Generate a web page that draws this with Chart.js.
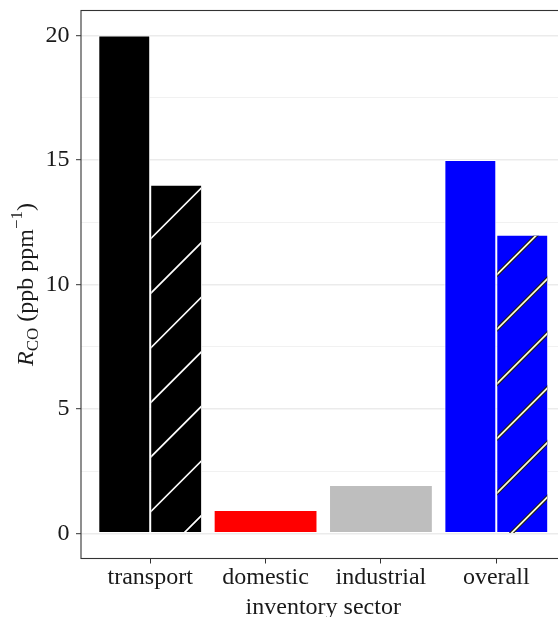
<!DOCTYPE html>
<html>
<head>
<meta charset="utf-8">
<script src="https://cdn.jsdelivr.net/npm/chart.js@4.4.0/dist/chart.umd.min.js"></script>
<style>
  html, body { margin: 0; padding: 0; background: #fff; overflow: hidden; width: 558px; height: 617px; }
  #wrap { position: absolute; left: 0; top: 0; width: 570px; height: 617px; }
</style>
</head>
<body>
<div id="wrap"><canvas id="chart" width="570" height="617"></canvas></div>
<script>
// ── DATA ──────────────────────────────────────────────────────
const sectors       = ['transport', 'domestic', 'industrial', 'overall'];
const plainValues   = [20, 0.95, 1.95, 15];   // solid bars
const hatchedValues = [14, null, null, 12];   // hatched bars (transport, overall only)
const majorTicks    = [0, 5, 10, 15, 20];
const minorTicks    = [2.5, 7.5, 12.5, 17.5];

// ── STYLE ─────────────────────────────────────────────────────
const FONT = '"Liberation Serif", "Times New Roman", serif';
const INK  = '#1a1a1a';
const plainColors = ['#000000', '#ff0000', '#bebebe', '#0000ff'];
const hatchFill   = ['#000000', null, null, '#0000ff'];
const hatchLine   = ['#ffffff', null, null, '#fbfbd8'];
const hatchEdge   = [null, null, null, '#1c1c1c'];

// diagonal stripes on the second dataset, clipped to each bar
const hatchPlugin = {
  id: 'hatch',
  afterDatasetsDraw(chart, args, opts) {
    const ctx = chart.ctx;
    const meta = chart.getDatasetMeta(1);
    meta.data.forEach((bar, i) => {
      if (hatchedValues[i] == null) return;
      const { x, y, base, width } = bar.getProps(['x', 'y', 'base', 'width'], true);
      const l = x - width / 2 + 1, r = x + width / 2 - 1;
      const t = Math.min(y, base) + 1, b = Math.max(y, base);
      ctx.save();
      ctx.beginPath();
      ctx.rect(l, t, r - l, b - t);
      ctx.clip();
      const step = opts.spacing;
      const first = opts.phase + Math.floor((l + t - opts.phase) / step) * step;
      const passes = hatchEdge[i] ? [[hatchEdge[i], 4], [hatchLine[i], 1.8]] : [[hatchLine[i], 1.7]];
      passes.forEach(([col, lw]) => {
        ctx.strokeStyle = col;
        ctx.lineWidth = lw;
        ctx.beginPath();
        for (let c = first; c <= r + b + step; c += step) {
          ctx.moveTo(c - (b + 10), b + 10);
          ctx.lineTo(c - (t - 10), t - 10);
        }
        ctx.stroke();
      });
      ctx.restore();
    });
  }
};

// panel border + y title with sub/superscript
const framePlugin = {
  id: 'frame',
  afterDraw(chart) {
    const { ctx, chartArea: a } = chart;
    ctx.save();
    ctx.strokeStyle = '#333333';
    ctx.lineWidth = 1.1;
    ctx.strokeRect(a.left, a.top, a.right - a.left, a.bottom - a.top);

    const parts = [
      { text: 'R', size: 24, italic: true, shift: 0 },
      { text: 'CO', size: 17, shift: 5 },
      { text: ' (ppb ppm', size: 24, shift: 0 },
      { text: '\u22121', size: 17, shift: -11 },
      { text: ')', size: 24, shift: 0 },
    ];
    const fontOf = p => (p.italic ? 'italic ' : '') + p.size + 'px ' + FONT;
    let total = 0;
    parts.forEach(p => { ctx.font = fontOf(p); p.w = ctx.measureText(p.text).width; total += p.w; });
    ctx.translate(33, (a.top + a.bottom) / 2);
    ctx.rotate(-Math.PI / 2);
    ctx.fillStyle = INK;
    ctx.textBaseline = 'alphabetic';
    ctx.textAlign = 'left';
    let px = -total / 2;
    parts.forEach(p => { ctx.font = fontOf(p); ctx.fillText(p.text, px, p.shift); px += p.w; });
    ctx.restore();
  }
};

new Chart(document.getElementById('chart'), {
  type: 'bar',
  data: {
    datasets: [
      {
        data: sectors.map((s, i) => ({ x: i + 1, y: plainValues[i] })),
        backgroundColor: plainColors,
        borderColor: '#ffffff', borderWidth: 1, borderSkipped: false
      },
      {
        data: sectors.map((s, i) => ({ x: i + 1, y: hatchedValues[i] })),
        backgroundColor: hatchFill,
        borderColor: '#ffffff', borderWidth: 1, borderSkipped: false
      }
    ]
  },
  options: {
    responsive: false,
    animation: false,
    devicePixelRatio: 1,
    categoryPercentage: 0.9,
    barPercentage: 1,
    skipNull: true,
    layout: { padding: { top: 10.5, right: 4.5, left: 0, bottom: 0 } },
    plugins: {
      legend: { display: false },
      tooltip: { enabled: false },
      hatch: { spacing: 54.6, phase: 7.2 }
    },
    scales: {
      x: {
        type: 'linear', min: 0.4, max: 4.6, offset: false,
        afterBuildTicks: s => { s.ticks = sectors.map((_, i) => ({ value: i + 1 })); },
        afterFit: s => { s.height = 58.5; s.paddingLeft = 0; s.paddingRight = 0; },
        border: { display: false },
        grid: { drawOnChartArea: false, offset: false, tickLength: 5, tickColor: '#333333', tickWidth: 1 },
        ticks: {
          autoSkip: false, maxRotation: 0, padding: 2, color: INK,
          font: { family: FONT, size: 24, lineHeight: 1 },
          callback: v => sectors[v - 1]
        },
        title: {
          display: true, text: 'inventory sector', color: INK, padding: 0,
          font: { family: FONT, size: 24, lineHeight: 0.8 }
        }
      },
      y: {
        min: -1, max: 21,
        afterBuildTicks: s => {
          s.ticks = majorTicks.concat(minorTicks).sort((a, b) => a - b).map(v => ({ value: v }));
        },
        afterFit: s => { s.width = 81; s.paddingTop = 0; s.paddingBottom = 0; },
        border: { display: false },
        grid: {
          color: '#ebebeb',
          lineWidth: c => majorTicks.includes(c.tick.value) ? 1.4 : 0.7,
          tickLength: 5,
          tickColor: c => majorTicks.includes(c.tick.value) ? '#333333' : 'rgba(0,0,0,0)',
          tickWidth: 1
        },
        ticks: {
          autoSkip: false, padding: 6.5, color: INK,
          font: { family: FONT, size: 24 },
          callback: v => majorTicks.includes(v) ? String(v) : ''
        }
      }
    }
  },
  plugins: [hatchPlugin, framePlugin]
});
</script>
</body>
</html>
